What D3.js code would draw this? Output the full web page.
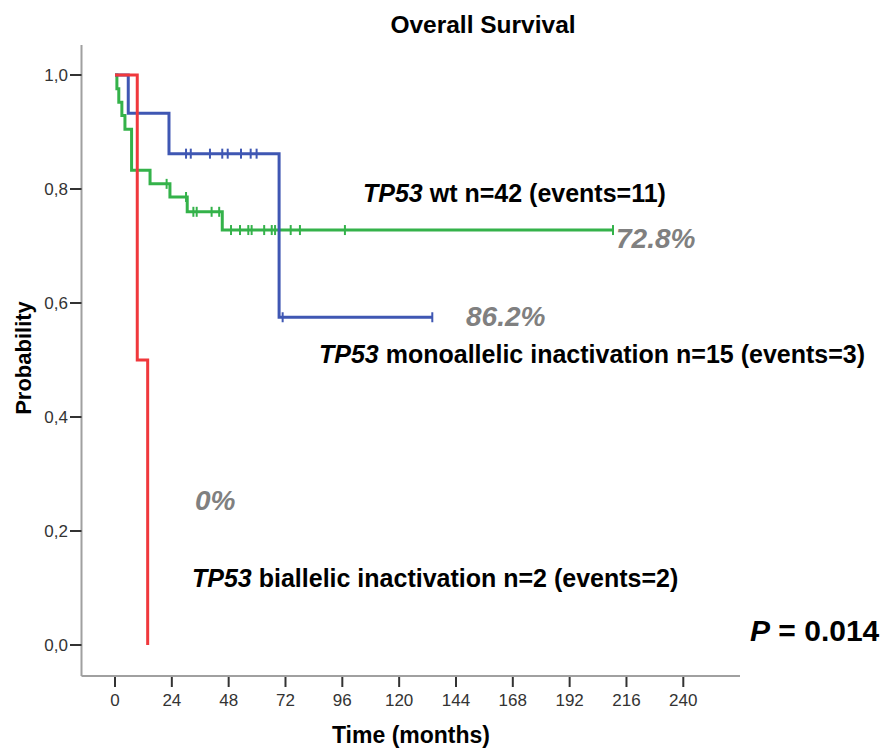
<html>
<head>
    <meta charset="utf-8" />
    <title>Overall Survival</title>
    <style>
      body {
    margin: 0;
    padding: 0;
    background: #fff;
}

svg text {
    font-family: 'Liberation Sans', Arial, sans-serif;
}

.axis-line {
    stroke: #a0a0a0;
    stroke-width: 2;
}

.tick-line {
    stroke: #333;
    stroke-width: 2;
}

.tick-label {
    fill: #333;
    font-size: 17px;
}

.km {
    fill: none;
    stroke-width: 3;
}

.censor {
    stroke-width: 2;
}
    </style>
    <script src="https://d3js.org/d3.v7.min.js"></script>
</head>
<body>
    <script>
// x axis ticks (months) and y axis ticks
var xTicks = [0, 24, 48, 72, 96, 120, 144, 168, 192, 216, 240];
var yTicks = [0, 0.2, 0.4, 0.6, 0.8, 1.0];
var yTickLabels = ["0,0", "0,2", "0,4", "0,6", "0,8", "1,0"];

// TP53 wt (green): step times and survival after each step
var wtTimes = [0, 0.8, 1.6, 2.9, 4.2, 7.0, 14.8, 23.2, 30.5, 45.3, 210.3];
var wtSurv = [1.0, 0.976, 0.952, 0.929, 0.905, 0.833, 0.809, 0.786, 0.760, 0.728, 0.728];
var wtCensorTimes = [21.8, 30.0, 33.1, 34.5, 40.8, 44.0, 49.0, 52.8, 56.3, 57.7, 63.0, 66.2, 67.6, 74.2, 78.1, 97.1, 210.3];

// TP53 monoallelic (blue)
var monoTimes = [0, 5.6, 22.8, 69.3, 134];
var monoSurv = [1.0, 0.933, 0.862, 0.575, 0.575];
var monoCensorTimes = [30.0, 32.0, 40.1, 45.3, 47.6, 53.2, 57.3, 59.8, 70.8, 134];

// TP53 biallelic (red)
var biTimes = [0, 9.4, 13.8];
var biSurv = [1.0, 0.5, 0.0];
var biCensorTimes = [];

// annotations
var labelWt = ["TP53", " wt n=42 (events=11)"];
var labelMono = ["TP53", " monoallelic inactivation n=15 (events=3)"];
var labelBi = ["TP53", " biallelic inactivation n=2 (events=2)"];
var pctLabels = ["72.8%", "86.2%", "0%"];

var width = 882, height = 749;

var svg = d3.select("body").append("svg")
    .attr("width", width)
    .attr("height", height);

var x = d3.scaleLinear().domain([0, 240]).range([115, 683.3]);
var y = d3.scaleLinear().domain([0, 1]).range([645, 75]);

var axisLeftX = 81.5, axisBottomY = 676;

// title
svg.append("text")
    .attr("x", 483).attr("y", 33)
    .attr("text-anchor", "middle")
    .style("font-size", "24.5px").style("font-weight", "bold")
    .text("Overall Survival");

// axis lines
svg.append("line").classed("axis-line", true)
    .attr("x1", axisLeftX).attr("x2", axisLeftX)
    .attr("y1", 45).attr("y2", axisBottomY);
svg.append("line").classed("axis-line", true)
    .attr("x1", axisLeftX).attr("x2", 740)
    .attr("y1", axisBottomY).attr("y2", axisBottomY);

// x ticks
var xt = svg.append("g").selectAll("g").data(xTicks).enter().append("g")
    .attr("transform", function (d) { return "translate(" + x(d) + ",0)"; });
xt.append("line").classed("tick-line", true)
    .attr("y1", axisBottomY + 1).attr("y2", axisBottomY + 11);
xt.append("text").classed("tick-label", true)
    .attr("y", 706).attr("text-anchor", "middle")
    .text(function (d) { return d; });

// y ticks
var yt = svg.append("g").selectAll("g").data(yTicks).enter().append("g")
    .attr("transform", function (d) { return "translate(0," + y(d) + ")"; });
yt.append("line").classed("tick-line", true)
    .attr("x1", 70).attr("x2", axisLeftX);
yt.append("text").classed("tick-label", true)
    .attr("x", 68).attr("dy", "0.35em").attr("text-anchor", "end")
    .text(function (d, i) { return yTickLabels[i]; });

// axis titles
svg.append("text")
    .attr("x", 411).attr("y", 743)
    .attr("text-anchor", "middle")
    .style("font-size", "23px").style("font-weight", "bold")
    .text("Time (months)");
svg.append("text")
    .attr("transform", "translate(31,358) rotate(-90)")
    .attr("text-anchor", "middle")
    .style("font-size", "22px").style("font-weight", "bold")
    .text("Probability");

// KM curves
var stepLine = d3.line()
    .x(function (d) { return x(d[0]); })
    .y(function (d) { return y(d[1]); })
    .curve(d3.curveStepAfter);

function drawCurve(times, surv, censors, color) {
    var pts = times.map(function (t, i) { return [t, surv[i]]; });
    svg.append("path").classed("km", true)
        .datum(pts)
        .attr("stroke", color)
        .attr("d", stepLine);

    // survival at time t
    function survAt(t) {
        var s = surv[0];
        for (var i = 0; i < times.length; i++) {
            if (times[i] <= t) s = surv[i];
        }
        return s;
    }
    svg.append("g").selectAll("line").data(censors).enter().append("line")
        .classed("censor", true)
        .attr("stroke", color)
        .attr("x1", function (d) { return x(d); })
        .attr("x2", function (d) { return x(d); })
        .attr("y1", function (d) { return y(survAt(d)) - 5; })
        .attr("y2", function (d) { return y(survAt(d)) + 5; });
}

drawCurve(wtTimes, wtSurv, wtCensorTimes, "#34b24a");
drawCurve(monoTimes, monoSurv, monoCensorTimes, "#3f57b3");
drawCurve(biTimes, biSurv, biCensorTimes, "#f0383c");

// group labels
function groupLabel(parts, lx, ly) {
    var t = svg.append("text")
        .attr("x", lx).attr("y", ly)
        .style("font-size", "25px").style("font-weight", "bold");
    t.append("tspan").style("font-style", "italic").text(parts[0]);
    t.append("tspan").text(parts[1]);
}
groupLabel(labelWt, 363, 202);
groupLabel(labelMono, 319, 363);
groupLabel(labelBi, 192, 587);

// percentages
var pctPos = [[616, 248], [466, 326], [195, 510]];
svg.append("g").selectAll("text").data(pctLabels).enter().append("text")
    .attr("x", function (d, i) { return pctPos[i][0]; })
    .attr("y", function (d, i) { return pctPos[i][1]; })
    .style("font-size", "28px").style("font-weight", "bold")
    .style("font-style", "italic").style("fill", "#808080")
    .text(function (d) { return d; });

// p value
var p = svg.append("text")
    .attr("x", 750).attr("y", 641)
    .style("font-size", "30px").style("font-weight", "bold");
p.append("tspan").style("font-style", "italic").text("P");
p.append("tspan").text(" = 0.014");
    </script>
</body>
</html>
